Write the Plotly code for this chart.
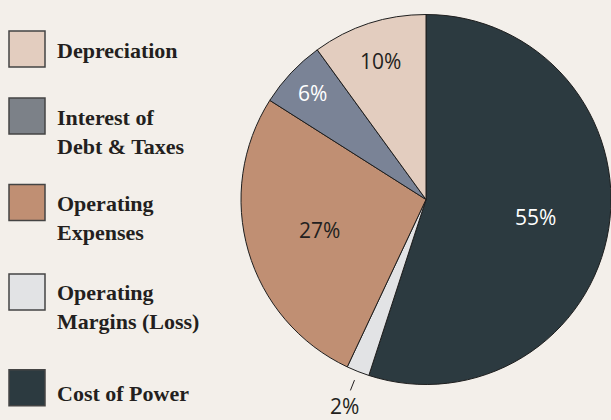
import math
import plotly.graph_objects as go

# ---- data ----
categories = ["Cost of Power", "Operating Margins (Loss)", "Operating Expenses",
              "Interest of Debt & Taxes", "Depreciation"]
values = [55, 2, 27, 6, 10]

legend_order = ["Depreciation", "Interest of Debt & Taxes", "Operating Expenses",
                "Operating Margins (Loss)", "Cost of Power"]
legend_text = ["Depreciation", "Interest of<br>Debt & Taxes", "Operating<br>Expenses",
               "Operating<br>Margins (Loss)", "Cost of Power"]

# ---- styles / layout ----
W, H = 611, 420
BG = "#f3efea"
DARK = "#231f20"
colors = {
    "Cost of Power": "#2c3a40",
    "Operating Margins (Loss)": "#e2e3e5",
    "Operating Expenses": "#c08f73",
    "Interest of Debt & Taxes": "#7a8396",
    "Depreciation": "#e3cdbf",
}
legend_colors = dict(colors)
legend_colors["Interest of Debt & Taxes"] = "#7c8188"
text_colors = ["white", DARK, DARK, "white", DARK]
label_radius = [0.60, 1.05, 0.60, 0.84, 0.79]   # fraction of pie radius
outside = [False, True, False, False, False]

square_y = [49, 116, 202.5, 292, 387.7]
label_y = [50, 131.5, 218, 306.5, 393]

# pie geometry (pixels)
cx, cy, r = 426, 199.5, 185

fig = go.Figure()

fig.add_trace(go.Pie(
    labels=categories,
    values=values,
    sort=False,
    direction="clockwise",
    rotation=0,
    marker=dict(colors=[colors[c] for c in categories], line=dict(color="#1e1e1e", width=1)),
    textinfo="none",
    showlegend=False,
    hoverinfo="label+percent",
    domain=dict(x=[(cx - r) / W, min(1, (cx + r) / W)],
                y=[1 - (cy + r) / H, 1 - (cy - r) / H]),
))

# percentage labels positioned at each slice's mid-angle
total = sum(values)
cum = 0
for v, col, fr, out in zip(values, text_colors, label_radius, outside):
    mid = (cum + v / 2) / total * 2 * math.pi
    cum += v
    ux, uy = math.sin(mid), -math.cos(mid)
    pct = f"{round(100 * v / total)}%"
    px, py = cx + ux * r * fr, cy + uy * r * fr
    if out:
        off = r * 0.15
        fig.add_annotation(x=px, y=py, xref="x", yref="y", text=pct,
                           showarrow=True, arrowhead=0, arrowwidth=1, arrowcolor=DARK,
                           ax=ux * off, ay=uy * off, standoff=0,
                           font=dict(family="Open Sans", size=21, color=DARK))
    else:
        fig.add_annotation(x=px, y=py, xref="x", yref="y", text=pct, showarrow=False,
                           font=dict(family="Open Sans", size=21, color=col))

# legend squares
fig.add_trace(go.Scatter(
    x=[27] * len(legend_order),
    y=square_y,
    mode="markers",
    marker=dict(symbol="square", size=36,
                color=[legend_colors[c] for c in legend_order],
                line=dict(color="#444444", width=1.5)),
    showlegend=False,
    hoverinfo="skip",
))

for t, y in zip(legend_text, label_y):
    fig.add_annotation(x=55, y=y, xref="x", yref="y", text=f"<b>{t}</b>", showarrow=False,
                       xanchor="left", yanchor="middle", align="left",
                       font=dict(family="Liberation Serif", size=22, color=DARK))

fig.update_xaxes(range=[0, W], visible=False, fixedrange=True)
fig.update_yaxes(range=[H, 0], visible=False, fixedrange=True)

fig.update_layout(
    width=W, height=H,
    margin=dict(l=0, r=0, t=0, b=0),
    paper_bgcolor=BG, plot_bgcolor="rgba(0,0,0,0)",
    xaxis=dict(domain=[0, 1]), yaxis=dict(domain=[0, 1]),
)

fig.write_html("out.html",
               config={"displayModeBar": False},
               post_script="document.body.style.margin='0';document.body.style.overflow='hidden';")
